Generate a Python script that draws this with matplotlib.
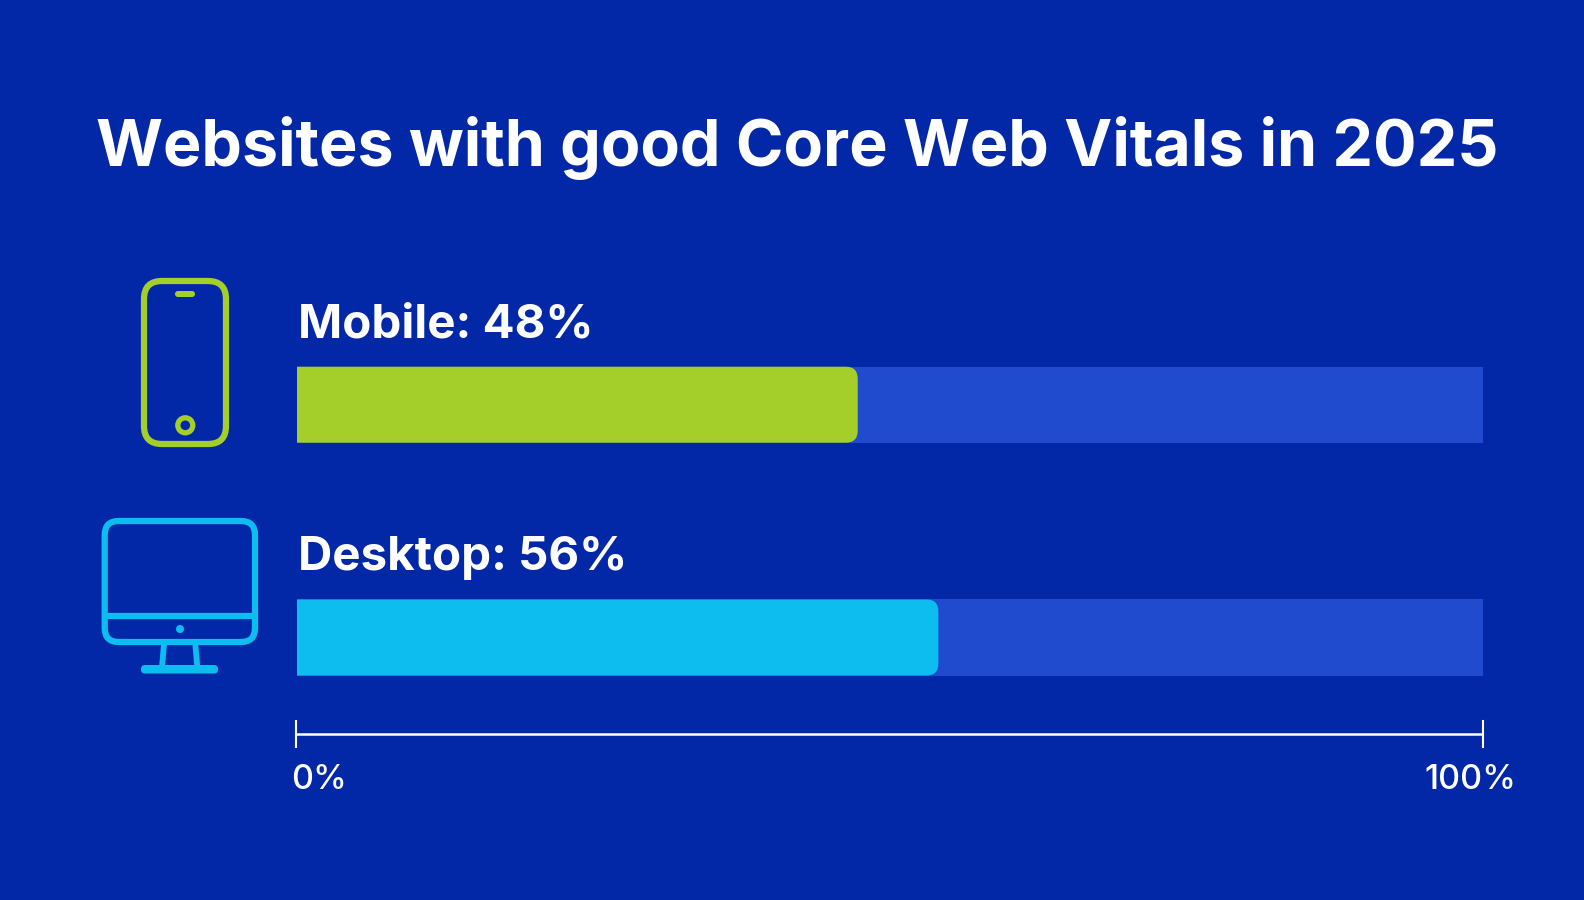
import matplotlib
matplotlib.use('Agg')
import matplotlib.pyplot as plt
from matplotlib.patches import FancyBboxPatch, Circle, PathPatch
from matplotlib.path import Path

title = "Websites with good Core Web Vitals in 2025"
categories = ["Mobile", "Desktop"]
labelled_values = [48, 56]
# bar lengths as drawn in the picture, a bit shorter than the printed numbers
drawn_values = [47.3, 54.1]
axis_labels = ["0%", "100%"]

BG = '#0228A8'
TRACK = '#204BCF'
GREEN = '#A4CF2A'
BLUE = '#0DBDF0'
bar_colors = [GREEN, BLUE]

plt.rcParams['font.family'] = ['Inter', 'DejaVu Sans']

fig = plt.figure(figsize=(15.84, 9), dpi=100, facecolor=BG)

# overlay in pixel coordinates for text and icons
ov = fig.add_axes([0, 0, 1, 1])
ov.set_xlim(0, 1584)
ov.set_ylim(900, 0)
ov.axis('off')

# bars: x is percent, the axes spans exactly the track width
bar_h = 0.3265
px_per_cat = 232.8
ax_top, ax_bot = 340, 700
ax = fig.add_axes([296.5 / 1584, 1 - ax_bot / 900, (1483 - 296.5) / 1584, (ax_bot - ax_top) / 900])
ax.set_xlim(0, 100)
ax.set_ylim((ax_bot - 404.7) / px_per_cat, (ax_top - 404.7) / px_per_cat)
ax.axis('off')


def right_round_bar(y, value, color):
    rx = 12 * 100 / 1187
    ry = 12 / px_per_cat
    t, b = y - bar_h / 2, y + bar_h / 2
    verts = [(0, t), (value - rx, t), (value, t), (value, t + ry), (value, b - ry),
             (value, b), (value - rx, b), (0, b), (0, t)]
    codes = [Path.MOVETO, Path.LINETO, Path.CURVE3, Path.CURVE3, Path.LINETO,
             Path.CURVE3, Path.CURVE3, Path.LINETO, Path.CLOSEPOLY]
    ax.add_patch(PathPatch(Path(verts, codes), facecolor=color, edgecolor='none'))


for i, cat in enumerate(categories):
    ax.barh(i, 100, height=bar_h, color=TRACK, edgecolor='none')
    right_round_bar(i, drawn_values[i], bar_colors[i])

# text
ov.text(797, 166, title, color='white', fontsize=46.5, fontweight='bold', ha='center', va='baseline')
label_y = [338, 570]
for i, cat in enumerate(categories):
    ov.text(298, label_y[i], f"{cat}: {labelled_values[i]}%", color='white', fontsize=34.2,
            fontweight='bold', ha='left', va='baseline')

# 0-100 scale line
ov.plot([296, 1483], [734, 734], color='white', lw=1.8, solid_capstyle='butt')
ov.plot([296, 296], [721, 747], color='white', lw=1.5)
ov.plot([1483, 1483], [721, 747], color='white', lw=1.5)
ov.text(291, 789, axis_labels[0], color='white', fontsize=24.5, fontweight='medium', ha='left', va='baseline')
ov.text(1516, 789, axis_labels[1], color='white', fontsize=24.5, fontweight='medium', ha='right', va='baseline')


def rbox(x0, y0, x1, y1, r, color, fill=False, lw=4.5):
    ov.add_patch(FancyBboxPatch((x0 + r, y0 + r), x1 - x0 - 2 * r, y1 - y0 - 2 * r,
                                boxstyle=f"round,pad={r},rounding_size={r}",
                                facecolor=color if fill else 'none',
                                edgecolor='none' if fill else color, lw=lw))


# phone icon
rbox(144, 281, 226, 444, 18, GREEN)
rbox(175, 291, 195, 297, 3, GREEN, fill=True)
ov.add_patch(Circle((185.3, 425.3), 7.5, facecolor='none', edgecolor=GREEN, lw=3.8))

# desktop icon
rbox(104.7, 521, 255, 642, 14, BLUE)
ov.plot([104.7, 255], [616, 616], color=BLUE, lw=4.5, solid_capstyle='butt')
ov.add_patch(Circle((180, 629), 4, facecolor=BLUE, edgecolor='none'))
ov.plot([164, 162], [644, 667], color=BLUE, lw=4.2, solid_capstyle='butt')
ov.plot([195.3, 197.3], [644, 667], color=BLUE, lw=4.2, solid_capstyle='butt')
rbox(141, 665, 218, 673.5, 4, BLUE, fill=True)

fig.savefig('out.png', dpi=100, facecolor=BG)
